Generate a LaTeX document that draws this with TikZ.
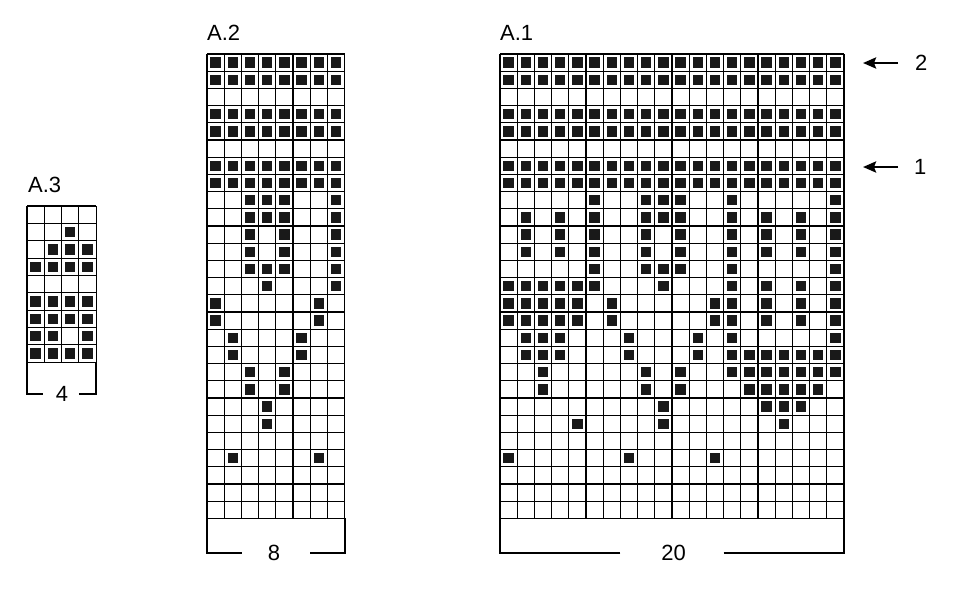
\documentclass[tikz,border=0pt]{standalone}
\usepackage{fontspec}
\setmainfont{Liberation Sans}
\usetikzlibrary{arrows.meta}
\tikzset{
  knit/.style={fill=black!90},
  gridline/.style={line width=1.1pt},
  bracket/.style={line width=1.8pt},
  lbl/.style={inner sep=0pt,font=\fontsize{22}{26}\selectfont},
  rowarrow/.style={line width=2.6pt,-{Stealth[length=13pt,width=11pt,inset=2pt]}}
}
\begin{document}
\begin{tikzpicture}[x=1pt,y=-1pt]
  \useasboundingbox (0,0) rectangle (957,600);
  % A.3
  \begin{scope}[shift={(27,206)},x=17.3pt,y=-17.35pt]
    \foreach \r/\cols in {2/{3},3/{2,3,4},4/{1,...,4},6/{1,...,4},7/{1,...,4},8/{1,2,4},9/{1,...,4}}
      {\foreach \c in \cols {\fill[knit] (\c-0.8,\r-0.8) rectangle (\c-0.2,\r-0.2);}}
    \foreach \i in {0,...,4} \draw[gridline] (\i,0) -- (\i,9);
    \foreach \j in {0,...,9} \draw[gridline] (0,\j) -- (4,\j);
    \draw[bracket] (0.92,10.85) -- (0,10.85) -- (0,9);
    \draw[bracket] (3.0,10.85) -- (4,10.85) -- (4,9);
    \node[lbl] (w3) at (2.02,10.85) {4};
  \end{scope}
  % A.2
  \begin{scope}[shift={(207,54)},x=17.2pt,y=-17.2pt]
    \foreach \r/\cols in {1/{1,...,8},2/{1,...,8},4/{1,...,8},5/{1,...,8},7/{1,...,8},8/{1,...,8},
      9/{3,4,5,8},10/{3,4,5,8},11/{3,5,8},12/{3,5,8},13/{3,4,5,8},14/{4,8},15/{1,7},16/{1,7},
      17/{2,6},18/{2,6},19/{3,5},20/{3,5},21/{4},22/{4},24/{2,7}}
      {\foreach \c in \cols {\fill[knit] (\c-0.8,\r-0.8) rectangle (\c-0.2,\r-0.2);}}
    \foreach \i in {0,...,8} \draw[gridline] (\i,0) -- (\i,27);
    \foreach \j in {0,...,27} \draw[gridline] (0,\j) -- (8,\j);
    \draw[bracket] (2.03,29) -- (0,29) -- (0,27);
    \draw[bracket] (6.0,29) -- (8,29) -- (8,27);
    \node[lbl] (w2) at (3.9,29) {8};
  \end{scope}
  % A.1
  \begin{scope}[shift={(500,54)},x=17.2pt,y=-17.2pt]
    \foreach \r/\cols in {1/{1,...,20},2/{1,...,20},4/{1,...,20},5/{1,...,20},7/{1,...,20},8/{1,...,20},
      9/{6,9,10,11,14,20},10/{2,4,6,9,10,11,14,16,18,20},11/{2,4,6,9,11,14,16,18,20},
      12/{2,4,6,9,11,14,16,18,20},13/{6,9,10,11,14,20},14/{1,2,3,4,5,6,10,14,16,18,20},
      15/{1,2,3,4,5,7,13,14,16,18,20},16/{1,2,3,4,5,7,13,14,16,18,20},17/{2,3,4,8,12,14,20},
      18/{2,3,4,8,12,14,15,16,17,18,19,20},19/{3,9,11,14,15,16,17,18,19,20},
      20/{3,9,11,15,16,17,18,19},21/{10,16,17,18},22/{5,10,17},24/{1,8,13}}
      {\foreach \c in \cols {\fill[knit] (\c-0.8,\r-0.8) rectangle (\c-0.2,\r-0.2);}}
    \foreach \i in {0,...,20} \draw[gridline] (\i,0) -- (\i,27);
    \foreach \j in {0,...,27} \draw[gridline] (0,\j) -- (20,\j);
    \draw[bracket] (7,29) -- (0,29) -- (0,27);
    \draw[bracket] (13,29) -- (20,29) -- (20,27);
    \node[lbl] (w1) at (10.1,29) {20};
  \end{scope}
  % chart names
  \node[lbl,anchor=base west] (a3) at (28,192) {A.3};
  \node[lbl,anchor=base west] (a2) at (207,40) {A.2};
  \node[lbl,anchor=base west] (a1) at (500,40) {A.1};
  % row markers
  \node[lbl,anchor=west] (r2) at (915,63) {2};
  \node[lbl,anchor=west] (r1) at (914,167) {1};
  \coordinate (p2) at (863,63);
  \coordinate (p1) at (863,167);
  \draw[rowarrow] ([xshift=-17pt]r2.west) -- (p2);
  \draw[rowarrow] ([xshift=-16pt]r1.west) -- (p1);
\end{tikzpicture}
\end{document}
